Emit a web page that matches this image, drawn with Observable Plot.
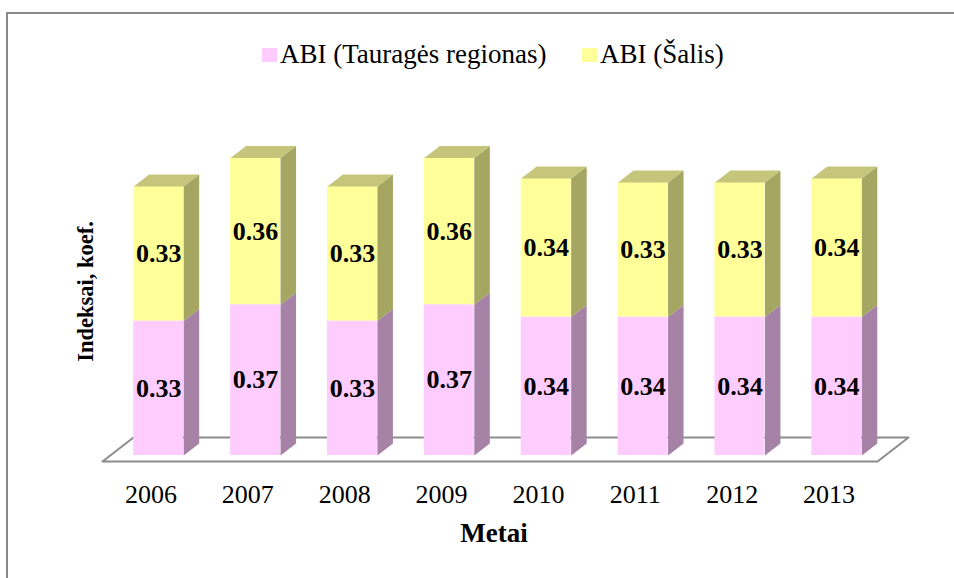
<!DOCTYPE html>
<html>
<head>
<meta charset="utf-8">
<script src="https://cdn.jsdelivr.net/npm/d3@7"></script>
<script src="https://cdn.jsdelivr.net/npm/@observablehq/plot@0.6"></script>
<style>
  html, body { margin: 0; padding: 0; background: #fff; }
  #wrap { position: relative; width: 954px; height: 578px; overflow: hidden; font-family: "Liberation Serif", "Times New Roman", serif; }
  #frame { position: absolute; left: 6px; top: 12px; width: 1000px; height: 700px; border-top: 2px solid #8a8a8a; border-left: 2px solid #8a8a8a; box-sizing: border-box; }
  #legend { position: relative; height: 70px; }
  .item { position: absolute; top: 39px; display: flex; align-items: center; font-size: 27px; color: #000; white-space: nowrap; }
  .sw { display: inline-block; width: 15px; height: 14px; margin-right: 3px; }
  #chart { position: relative; }
</style>
</head>
<body>
<div id="wrap">
  <div id="frame"></div>
  <div id="legend"></div>
  <div id="chart"></div>
</div>
<script>
// ---- data ----
const years = ["2006", "2007", "2008", "2009", "2010", "2011", "2012", "2013"];
const regionValues = [0.33, 0.37, 0.33, 0.37, 0.34, 0.34, 0.34, 0.34];
const countryValues = [0.33, 0.36, 0.33, 0.36, 0.34, 0.33, 0.33, 0.34];
const seriesNames = ["ABI (Tauragės regionas)", "ABI (Šalis)"];
const xTitle = "Metai";
const yTitle = "Indeksai, koef.";

// ---- styling ----
const frontColors = ["#FFCCFF", "#FFFF99"];
const sideColors = ["#A683A6", "#A6A663"];
const topColor = "#C5C57C";
const font = '"Liberation Serif", "Times New Roman", serif';

// legend (HTML above the SVG)
const legend = document.getElementById("legend");
const legendLeft = [262, 582];
seriesNames.forEach((name, k) => {
  const it = document.createElement("div");
  it.className = "item";
  it.style.left = legendLeft[k] + "px";
  const sw = document.createElement("span");
  sw.className = "sw";
  sw.style.background = frontColors[k];
  it.appendChild(sw);
  it.appendChild(document.createTextNode(name));
  legend.appendChild(it);
});

// ---- 3D geometry (in data units) ----
const DX = 0.32;     // depth shift along x
const DY = 0.0589;   // depth shift along y
const hw = 0.258;    // half bar width
const z0 = 0.25, z1 = 0.75; // bar depth range

const segments = [];
years.forEach((yr, i) => {
  segments.push({i, s: 0, y0: 0, y1: regionValues[i], v: regionValues[i]});
  segments.push({i, s: 1, y0: regionValues[i], y1: regionValues[i] + countryValues[i], v: countryValues[i]});
});

const sidePts = [];
const topPts = [];
segments.forEach((d, k) => {
  const xr = d.i + hw;
  [[z0, d.y0], [z1, d.y0], [z1, d.y1], [z0, d.y1]].forEach(([z, y]) =>
    sidePts.push({id: k, s: d.s, x: xr + z * DX, y: y + z * DY}));
  if (d.s === 1) {
    const xl = d.i - hw;
    [[xl, z0], [xr, z0], [xr, z1], [xl, z1]].forEach(([x, z]) =>
      topPts.push({id: k, x: x + z * DX, y: d.y1 + z * DY}));
  }
});

const floorPts = [
  {x: -0.5, y: 0}, {x: 7.5, y: 0}, {x: 7.5 + DX, y: DY}, {x: -0.5 + DX, y: DY}
];

const marks = [
  Plot.line(floorPts, {x: "x", y: "y", curve: "linear-closed", fill: "#fff", stroke: "#8c8c8c", strokeWidth: 2}),
  ...[0, 1].map(s => Plot.rect(segments.filter(d => d.s === s), {
    x1: d => d.i - hw + z0 * DX, x2: d => d.i + hw + z0 * DX,
    y1: d => d.y0 + z0 * DY, y2: d => d.y1 + z0 * DY,
    fill: frontColors[s]
  })),
  ...[0, 1].map(s => Plot.line(sidePts.filter(d => d.s === s), {
    x: "x", y: "y", z: "id", curve: "linear-closed", fill: sideColors[s], stroke: null
  })),
  Plot.line(topPts, {x: "x", y: "y", z: "id", curve: "linear-closed", fill: topColor, stroke: null}),
  Plot.text(segments, {
    x: d => d.i + z0 * DX, y: d => (d.y0 + d.y1) / 2 + z0 * DY,
    text: d => d.v.toFixed(2), fontSize: 26, fontWeight: "bold", fill: "#000"
  }),
  Plot.axisX({ticks: d3.range(years.length), tickFormat: i => years[i], tickSize: 0, tickPadding: 23, fontSize: 26, label: null}),
  Plot.text([xTitle], {frameAnchor: "bottom", lineAnchor: "middle", textAnchor: "middle", dy: 72, dx: 4, fontSize: 27, fontWeight: "bold", fill: "#000"}),
  Plot.text([yTitle], {frameAnchor: "left", lineAnchor: "middle", textAnchor: "middle", rotate: -90, dx: -17, dy: -7, fontSize: 22.5, fontWeight: "bold", fill: "#000"})
];

const chart = Plot.plot({
  width: 954,
  height: 508,
  marginLeft: 102,
  marginRight: 77,
  marginTop: 65,
  marginBottom: 117,
  x: {type: "linear", domain: [-0.5, 7.5]},
  y: {type: "linear", domain: [0, 0.8], axis: null},
  style: {fontFamily: font, background: "transparent", color: "#000", overflow: "visible"},
  marks
});
document.getElementById("chart").appendChild(chart);
</script>
</body>
</html>
